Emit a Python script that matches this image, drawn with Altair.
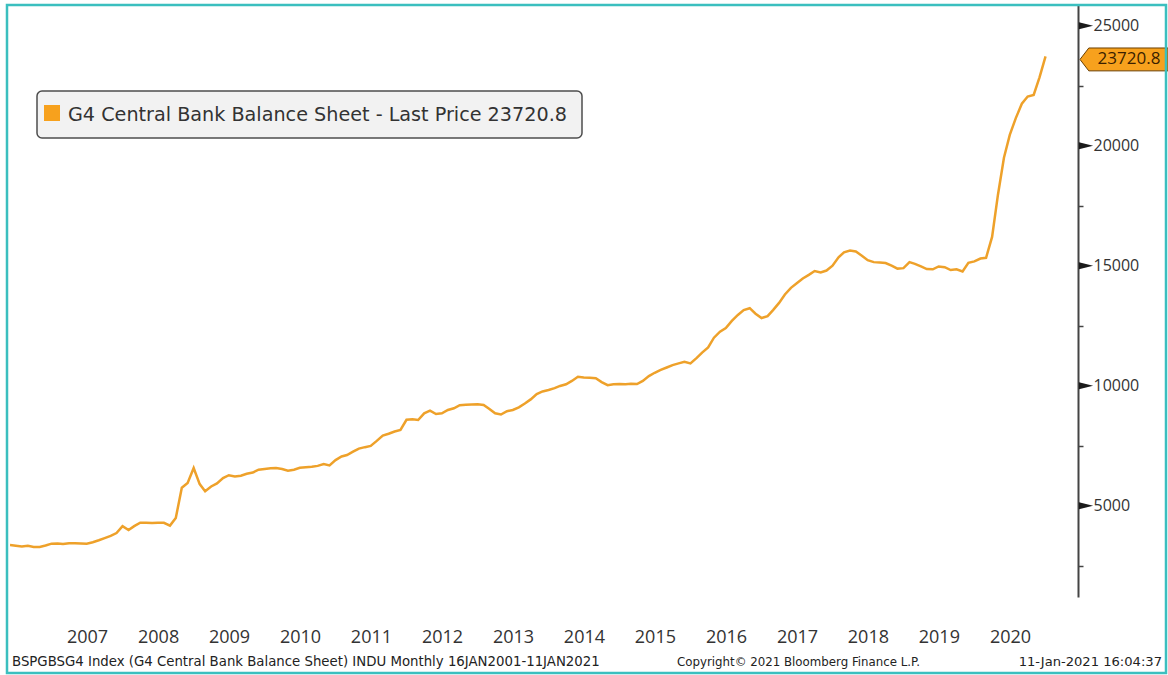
import calendar
import altair as alt
import pandas as pd

# ---- data (month-end values) ----
v2006 = [3360, 3330, 3300, 3330, 3280, 3280, 3340, 3420]          # May..Dec 2006
v2007 = [3430, 3400, 3440, 3440, 3430, 3420, 3480, 3560, 3650, 3740, 3860, 4150]
v2008 = [3990, 4150, 4290, 4290, 4280, 4290, 4290, 4170, 4490, 5750, 5950, 6570]
v2009 = [5900, 5600, 5800, 5930, 6150, 6270, 6220, 6250, 6330, 6380, 6500, 6530]
v2010 = [6560, 6570, 6530, 6460, 6500, 6580, 6600, 6620, 6660, 6740, 6680, 6900]
v2011 = [7050, 7110, 7250, 7380, 7440, 7490, 7700, 7920, 8000, 8090, 8160, 8580]
v2012 = [8600, 8570, 8850, 8960, 8820, 8850, 8990, 9060, 9190, 9210, 9220, 9230]
v2013 = [9200, 9040, 8850, 8800, 8940, 8990, 9100, 9260, 9430, 9650, 9760, 9820]
v2014 = [9900, 9990, 10060, 10200, 10370, 10340, 10330, 10310, 10150, 10020, 10060, 10070]
v2015 = [10060, 10080, 10070, 10200, 10400, 10540, 10660, 10760, 10860, 10930, 11000, 10930]
v2016 = [11150, 11380, 11600, 12000, 12250, 12400, 12700, 12950, 13150, 13230, 13000, 12820]
v2017 = [12900, 13150, 13450, 13800, 14080, 14270, 14470, 14620, 14780, 14720, 14800, 15000]
v2018 = [15350, 15560, 15630, 15590, 15420, 15230, 15150, 15130, 15110, 15000, 14880, 14900]
v2019 = [15150, 15080, 14970, 14860, 14850, 14970, 14940, 14820, 14850, 14760, 15120, 15180]
v2020 = [15300, 15330, 16200, 17950, 19500, 20450, 21150, 21750, 22050, 22120, 22850, 23720.8]

yearly = [v2007, v2008, v2009, v2010, v2011, v2012, v2013, v2014,
          v2015, v2016, v2017, v2018, v2019, v2020]

label_years = [2007, 2008, 2009, 2010, 2011, 2012, 2013, 2014,
               2015, 2016, 2017, 2018, 2019, 2020]
y_ticks = [2500, 5000, 7500, 10000, 12500, 15000, 17500, 20000, 22500, 25000]
y_major = [5000, 10000, 15000, 20000, 25000]

last_price = 23720.8
legend_text = "G4 Central Bank Balance Sheet - Last Price 23720.8"
footer_left = "BSPGBSG4 Index (G4 Central Bank Balance Sheet) INDU  Monthly 16JAN2001-11JAN2021"
footer_mid = "Copyright\u00a9 2021 Bloomberg Finance L.P."
footer_right = "11-Jan-2021 16:04:37"

dates, values = [], []
for i, m in enumerate(range(5, 13)):
    dates.append(f"2006-{m:02d}-{calendar.monthrange(2006, m)[1]:02d}")
    values.append(v2006[i])
for k, y in enumerate(range(2007, 2021)):
    for m in range(1, 13):
        dates.append(f"{y}-{m:02d}-{calendar.monthrange(y, m)[1]:02d}")
        values.append(yearly[k][m - 1])

df = pd.DataFrame({"date": dates, "value": values})

W, H = 1068, 592
FONT = "Open Sans"
FONT2 = "DejaVu Sans"
LINE_COLOR = "#eea12a"
ORANGE = "#f7a11d"

x_domain = [alt.DateTime(year=2006, month=5, date=31, utc=True),
            alt.DateTime(year=2021, month=6, date=16, utc=True)]
x_values = [alt.DateTime(year=y, month=7, date=1, utc=True) for y in label_years]


def y_enc():
    return alt.Y(
        "value:Q", title=None,
        scale=alt.Scale(domain=[1196, 25864], nice=False, zero=False),
        axis=alt.Axis(orient="right", values=y_ticks,
                      labelExpr="datum.value % 5000 === 0 ? format(datum.value, 'd') : ''",
                      domain=True, domainColor="#444444", domainWidth=2,
                      ticks=True, tickColor="#444444", tickSize=5, tickWidth=1.5, grid=False,
                      labelFont=FONT, labelFontSize=16, labelColor="#333333",
                      labelPadding=10, labelFlush=False, labelOverlap=False))


line = alt.Chart(df).mark_line(color=LINE_COLOR, strokeWidth=2.5, clip=True).encode(
    x=alt.X("date:T", title=None,
            scale=alt.Scale(type="utc", domain=x_domain),
            axis=alt.Axis(values=x_values, labelExpr="utcFormat(datum.value, '%Y')",
                          domain=False, ticks=False, tickSize=0, grid=False,
                          labelFont=FONT, labelFontSize=18, labelColor="#333333",
                          labelPadding=31, labelAngle=0, labelFlush=False,
                          labelOverlap=False)),
    y=y_enc(),
)

tri = alt.Chart(pd.DataFrame({"value": y_major})).mark_point(
    shape="M -1 -0.5 L 1 0 L -1 0.5 Z", size=200, filled=True, color="#1a1a1a", opacity=1
).encode(x=alt.value(1076), y=y_enc())

tag_df = pd.DataFrame({"value": [last_price], "label": [f"{last_price}"]})
tag = alt.Chart(tag_df).mark_point(
    shape="M -1 0 L -0.8 -0.26 L 1 -0.26 L 1 0.26 L -0.8 0.26 Z", size=7744,
    filled=True, fill=ORANGE, stroke="#6b3f00", strokeWidth=1, opacity=1, yOffset=3
).encode(x=alt.value(1114), y=y_enc())
tag_text = alt.Chart(tag_df).mark_text(
    font=FONT, fontSize=17, color="#3b1f00", align="center", baseline="middle", yOffset=3
).encode(x=alt.value(1119), y=y_enc(), text="label:N")

one = pd.DataFrame({"k": [0]})
legend_box = alt.Chart(one).mark_rect(
    fill="#f2f2f2", stroke="#4d4d4d", strokeWidth=1.5, cornerRadius=5
).encode(x=alt.value(27), x2=alt.value(572), y=alt.value(86), y2=alt.value(133))
swatch = alt.Chart(one).mark_rect(fill=ORANGE).encode(
    x=alt.value(34), x2=alt.value(50), y=alt.value(100), y2=alt.value(116))
legend_label = alt.Chart(one).mark_text(
    text=legend_text, align="left", baseline="middle", font=FONT2, fontSize=19.2, color="#333333"
).encode(x=alt.value(58), y=alt.value(110))

foot_l = alt.Chart(one).mark_text(
    text=footer_left, align="left", baseline="middle", font=FONT2, fontSize=13.3, color="#222222"
).encode(x=alt.value(2), y=alt.value(657))
foot_m = alt.Chart(one).mark_text(
    text=footer_mid, align="left", baseline="middle", font=FONT2, fontSize=11.8, color="#222222"
).encode(x=alt.value(667), y=alt.value(657))
foot_r = alt.Chart(one).mark_text(
    text=footer_right, align="right", baseline="middle", font=FONT2, fontSize=13.1, color="#222222"
).encode(x=alt.value(1152), y=alt.value(657))

border = alt.Chart(one).mark_rect(
    fillOpacity=0, stroke="#3bbfbf", strokeWidth=2.5
).encode(x=alt.value(-3), x2=alt.value(1156), y=alt.value(0), y2=alt.value(668))

chart = alt.layer(
    line, tri, tag, tag_text, legend_box, swatch, legend_label, foot_l, foot_m, foot_r, border
).properties(
    width=W, height=H,
    autosize=alt.AutoSizeParams(type="none"),
    padding={"left": 10, "top": 5, "right": 90, "bottom": 78},
    background="white",
).configure_view(strokeWidth=0)

chart.save("out.html", embed_options={"renderer": "svg", "actions": False})
